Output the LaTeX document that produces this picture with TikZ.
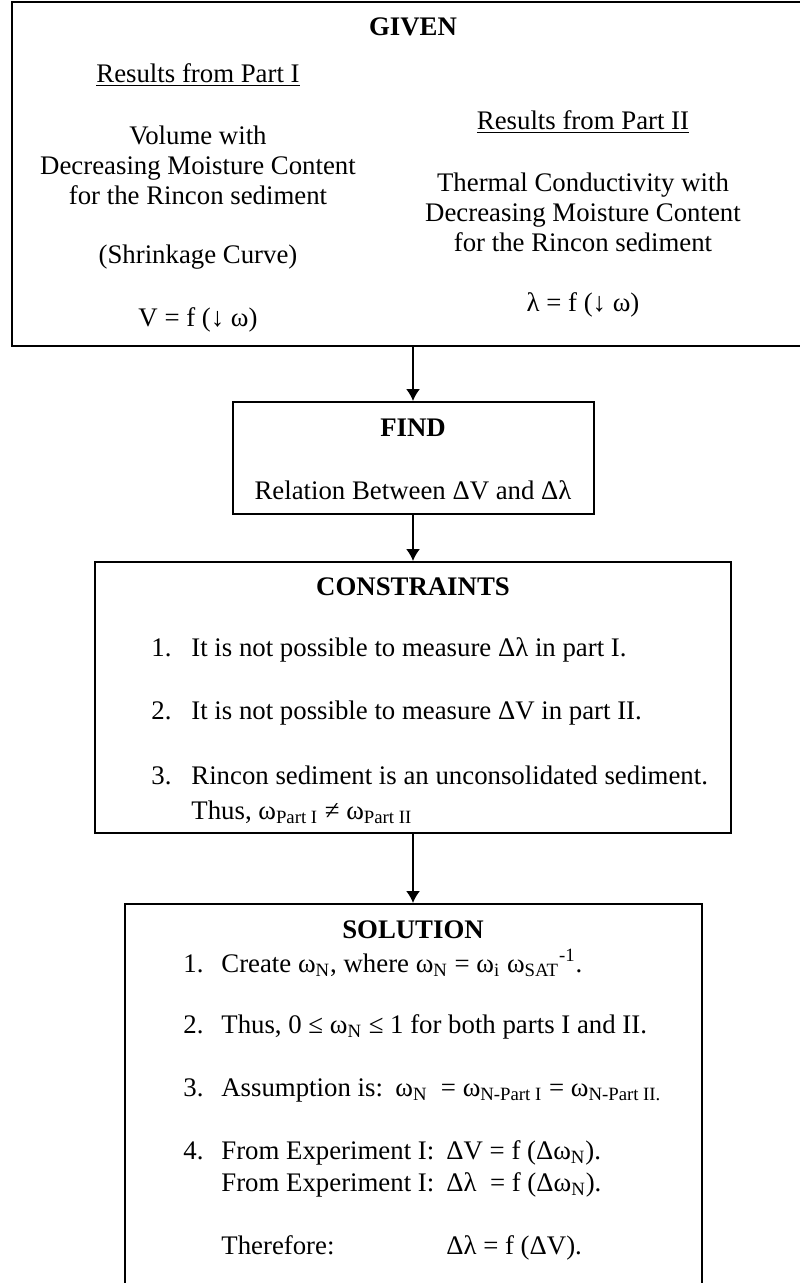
\documentclass[tikz,border=0pt]{standalone}
\usepackage{fontspec}
\setmainfont{Liberation Serif}
\usetikzlibrary{arrows.meta}

\newcommand{\sbs}[1]{\textsubscript{#1}}

\begin{document}
\begin{tikzpicture}[x=0.5pt,y=-0.5pt,>={Latex[length=6pt,width=7pt]},
  box/.style={draw,line width=1pt,inner sep=0pt},
  txt/.style={font=\fontsize{13.4}{15}\selectfont,inner sep=0pt},
  head/.style={font=\fontsize{13.4}{15}\selectfont\bfseries,inner sep=0pt},
  conn/.style={->,line width=0.8pt}]

\useasboundingbox (0,0) rectangle (799,1283);

\node[box,minimum width=401pt,minimum height=172pt] (given) at (413,174) {};
\node[box,minimum width=180.5pt,minimum height=56pt] (find) at (413,458) {};
\node[box,minimum width=318pt,minimum height=135.5pt] (constr) at (413,697.5) {};
\node[box,minimum width=288.5pt,minimum height=200pt] (sol) at (413,1104) {};

\draw[conn] (given.south) -- (find.north);
\draw[conn] (find.south) -- (constr.north);
\draw[conn] (constr.south) -- (sol.north);

% given
\node[head] (givenhd) at (413,27) {GIVEN};
\node[txt] (resI) at (198,75) {\underline{Results from Part I}};
\node[txt,align=center] (volI) at (198,165) {Volume with\\Decreasing Moisture Content\\for the Rincon sediment};
\node[txt] (shrink) at (198,257) {(Shrinkage Curve)};
\node[txt] (fI) at (198,320) {V = f (↓ ω)};
\node[txt] (resII) at (583,122) {\underline{Results from Part II}};
\node[txt,align=center] (condII) at (583,212) {Thermal Conductivity with\\Decreasing Moisture Content\\for the Rincon sediment};
\node[txt] (fII) at (583,305) {λ = f (↓ ω)};

% find
\node[head] (findhd) at (413,428) {FIND};
\node[txt] (rel) at (413,490) {Relation Between ΔV and Δλ};

% constraints
\node[head] (constrhd) at (413,587) {CONSTRAINTS};
\node[txt,anchor=west] (c1) at (151,650) {\makebox[20pt][l]{1.}It is not possible to measure Δλ in part I.};
\node[txt,anchor=west] (c2) at (151,713) {\makebox[20pt][l]{2.}It is not possible to measure ΔV in part II.};
\node[txt,anchor=west,align=left] (c3) at (151,794.5) {\makebox[20pt][l]{3.}Rincon sediment is an unconsolidated sediment.\\[2.5pt]
  \hspace*{20pt}Thus, ω\sbs{Part I} ≠ ω\sbs{Part II}};

% solution
\node[head] (solhd) at (413,930) {SOLUTION};
\node[txt,anchor=west] (s1) at (183,963) {\makebox[19pt][l]{1.}Create ω\sbs{N}, where ω\sbs{N} = ω\sbs{i} ω\sbs{SAT}\textsuperscript{-1}.};
\node[txt,anchor=west] (s2) at (183,1027) {\makebox[19pt][l]{2.}Thus, 0 ≤ ω\sbs{N} ≤ 1 for both parts I and II.};
\node[txt,anchor=west] (s3) at (183,1090) {\makebox[19pt][l]{3.}\makebox[87pt][l]{Assumption is:}ω\sbs{N} \ = ω\sbs{N-Part I} = ω\sbs{N-Part II.}};
\node[txt,anchor=west,align=left] (s4) at (183,1169) {\makebox[19pt][l]{4.}\makebox[112.5pt][l]{From Experiment I:}ΔV = f (Δω\sbs{N}).\\[1pt]
  \hspace*{19pt}\makebox[112.5pt][l]{From Experiment I:}Δλ \ = f (Δω\sbs{N}).};
\node[txt,anchor=west] (s5) at (221,1248) {\makebox[112.5pt][l]{Therefore:}Δλ = f (ΔV).};

\end{tikzpicture}
\end{document}
